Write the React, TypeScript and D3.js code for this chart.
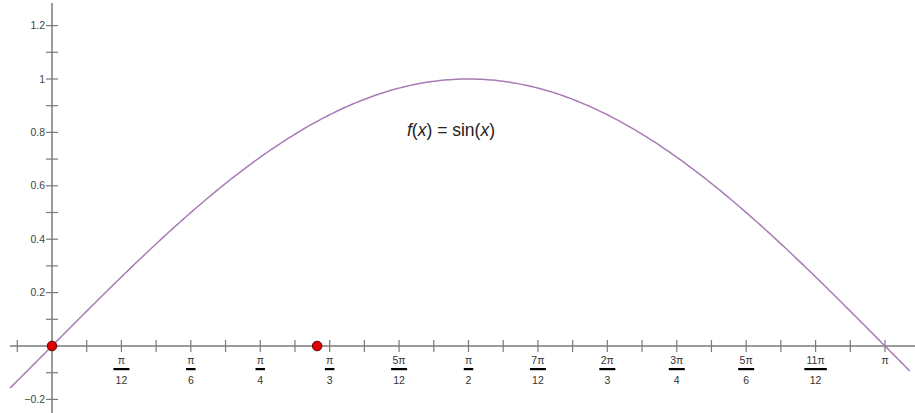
import React from 'react';
import * as d3 from 'd3';

// multiples of pi/12 for the major ticks on the x axis
const xMajorSteps = [1, 2, 3, 4, 5, 6, 7, 8, 9, 10, 11, 12];
const xNumerators = ['π', 'π', 'π', 'π', '5π', 'π', '7π', '2π', '3π', '5π', '11π', 'π'];
const xDenominators = ['12', '6', '4', '3', '12', '2', '12', '3', '4', '6', '12', ''];
// minor ticks, in multiples of pi/24
const xMinorSteps = [-1, 1, 3, 5, 7, 9, 11, 13, 15, 17, 19, 21, 23];
const yMajorTicks = [1.2, 1, 0.8, 0.6, 0.4, 0.2, -0.2];
const yTickLabels = ['1.2', '1', '0.8', '0.6', '0.4', '0.2', '−0.2'];
const yMinorTicks = [1.1, 0.9, 0.7, 0.5, 0.3, 0.1, -0.1];
const markedPoints = [
  { x: 0, y: 0 },
  { x: 1, y: 0 },
];
const curveStart = -0.158;
const curveEnd = 3.235;

const width = 915;
const height = 413;

const App = () => {
  const x = d3.scaleLinear().domain([0, Math.PI]).range([52, 885]);
  const y = d3.scaleLinear().domain([0, 1]).range([346, 79]);

  const curve = d3.range(curveStart, curveEnd, 0.01).concat([curveEnd]).map((t) => [t, Math.sin(t)] as [number, number]);
  const line = d3
    .line<[number, number]>()
    .x((d) => x(d[0]))
    .y((d) => y(d[1]));

  const axisColor = '#7a7a7a';
  const font = 'Liberation Sans, Arial, sans-serif';

  return (
    <svg
      width={width}
      height={height}
      style={{ position: 'absolute', left: 0, top: 0, background: '#fff' }}
    >
      {/* axes */}
      <line x1={10} x2={915} y1={y(0)} y2={y(0)} stroke={axisColor} strokeWidth={1.5} />
      <line x1={x(0)} x2={x(0)} y1={3} y2={413} stroke={axisColor} strokeWidth={1.5} />

      {xMajorSteps.map((k) => (
        <line key={'xM' + k} x1={x((k * Math.PI) / 12)} x2={x((k * Math.PI) / 12)} y1={y(0) - 6} y2={y(0) + 6} stroke={axisColor} strokeWidth={1.2} />
      ))}
      {xMinorSteps.map((k) => (
        <line key={'xm' + k} x1={x((k * Math.PI) / 24)} x2={x((k * Math.PI) / 24)} y1={y(0) - 6} y2={y(0) + 6} stroke={axisColor} strokeWidth={1.2} />
      ))}
      {yMajorTicks.concat(yMinorTicks).map((v) => (
        <line key={'y' + v} x1={x(0) - 6} x2={x(0) + 6} y1={y(v)} y2={y(v)} stroke={axisColor} strokeWidth={1.2} />
      ))}

      {yMajorTicks.map((v, i) => (
        <text key={'yl' + v} x={45} y={y(v)} dy="0.35em" textAnchor="end" fontFamily={font} fontSize={10.5} fill="#444">
          {yTickLabels[i]}
        </text>
      ))}

      {xMajorSteps.map((k, i) => {
        const cx = x((k * Math.PI) / 12);
        const num = xNumerators[i];
        const den = xDenominators[i];
        const barW = 3 + 6.5 * Math.max(num.length, den.length);
        return (
          <g key={'xl' + k} fontFamily={font} fontSize={10.5} fill="#333" textAnchor="middle">
            <text x={cx} y={y(0) + 18}>{num}</text>
            {den && (
              <>
                <rect x={cx - barW / 2} y={y(0) + 22} width={barW} height={2.2} fill="#000" />
                <text x={cx} y={y(0) + 38}>{den}</text>
              </>
            )}
          </g>
        );
      })}

      {/* function curve */}
      <path d={line(curve) || ''} fill="none" stroke="#a77bb5" strokeWidth={1.5} />

      {markedPoints.map((p, i) => (
        <circle key={'p' + i} cx={x(p.x)} cy={y(p.y)} r={4.8} fill="#e00000" stroke="#600" strokeWidth={1} />
      ))}

      <text x={451} y={136} textAnchor="middle" fontFamily={font} fontSize={17.5} fill="#222">
        <tspan fontStyle="italic">f</tspan>(<tspan fontStyle="italic">x</tspan>) = sin(<tspan fontStyle="italic">x</tspan>)
      </text>
    </svg>
  );
};

export default App;
